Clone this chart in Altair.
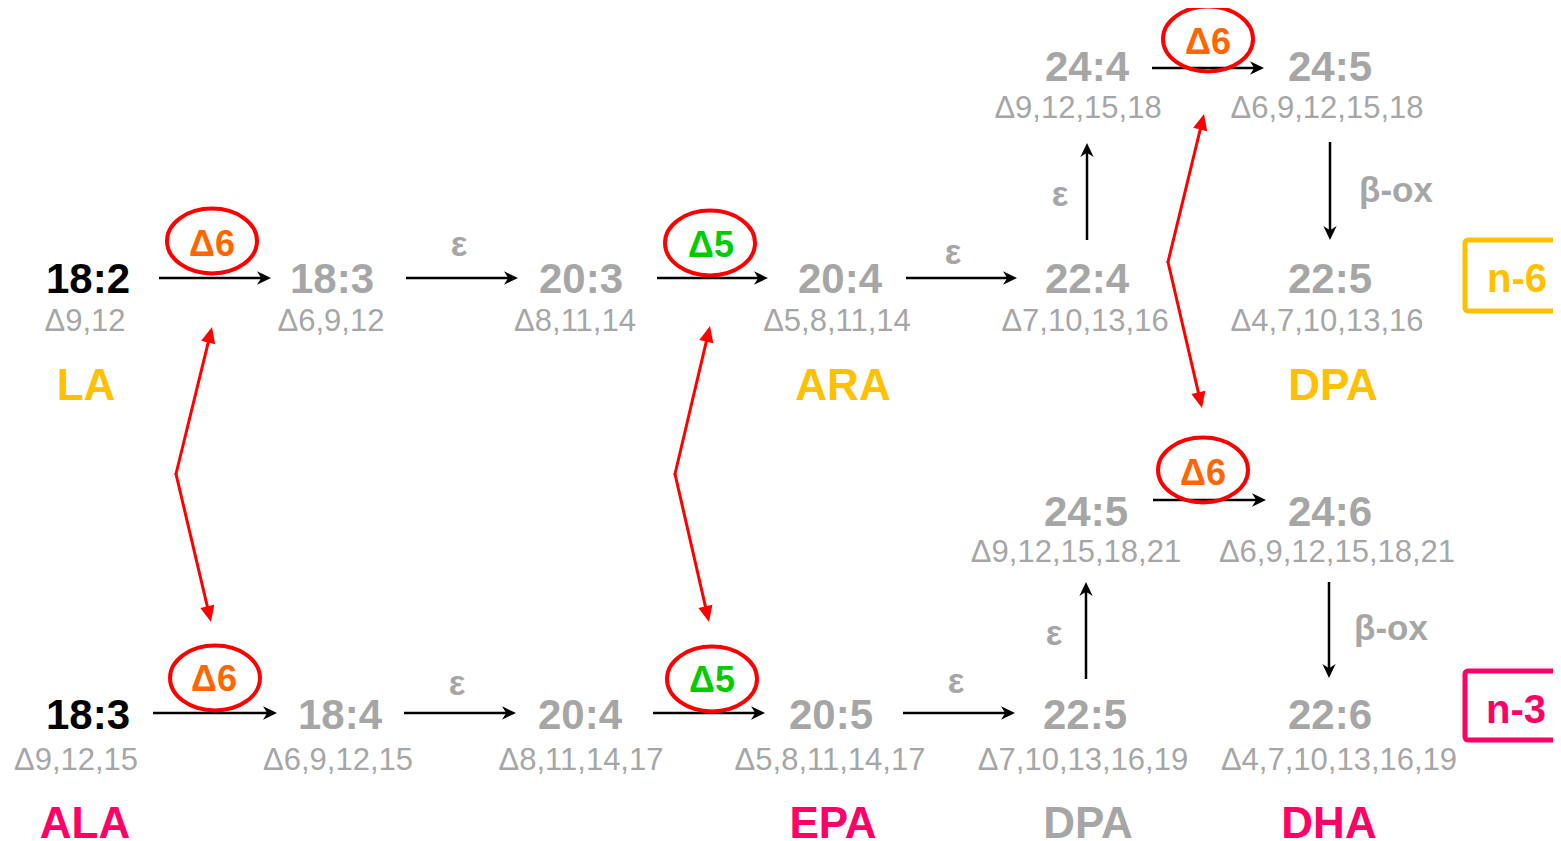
import math
import altair as alt
import pandas as pd

FONT = "Liberation Sans"
GRAY = "#A6A6A6"
YELLOW = "#FFC000"
PINK = "#FF0066"
ORANGE = "#FF6600"
GREEN = "#00CC00"
RED = "#FF0000"

# ---------------- fatty acids (chain length : double bonds) ----------------
acid_labels = ["18:2", "18:3", "20:3", "20:4", "22:4", "24:4", "24:5", "22:5",
               "18:3", "18:4", "20:4", "20:5", "22:5", "24:5", "24:6", "22:6"]
acid_x = [88, 332, 581, 840, 1087, 1087, 1330, 1330,
          88, 340, 580, 831, 1085, 1086, 1330, 1330]
acid_y = [293, 293, 293, 293, 293, 81, 81, 293,
          729, 729, 729, 729, 729, 526, 526, 729]
acid_kind = ["dietary"] + ["derived"] * 7 + ["dietary"] + ["derived"] * 7

# ---------------- double-bond positions ----------------
bond_labels = ["Δ9,12", "Δ6,9,12", "Δ8,11,14", "Δ5,8,11,14", "Δ7,10,13,16",
               "Δ9,12,15,18", "Δ6,9,12,15,18", "Δ4,7,10,13,16",
               "Δ9,12,15", "Δ6,9,12,15", "Δ8,11,14,17", "Δ5,8,11,14,17",
               "Δ7,10,13,16,19", "Δ9,12,15,18,21", "Δ6,9,12,15,18,21",
               "Δ4,7,10,13,16,19"]
bond_x = [85, 331, 575, 837, 1085, 1078, 1327, 1327,
          76, 338, 581, 830, 1083, 1076, 1337, 1339]
bond_y = [331, 331, 331, 331, 331, 118, 118, 331,
          770, 770, 770, 770, 770, 562, 562, 770]

# ---------------- common names ----------------
name_labels = ["LA", "ARA", "DPA", "ALA", "EPA", "DPA", "DHA"]
name_x = [86, 843, 1333, 85, 833, 1088, 1329]
name_y = [400, 400, 400, 838, 838, 838, 838]
name_series = ["n-6", "n-6", "n-6", "n-3", "n-3", "other", "n-3"]

# ---------------- desaturases (circled) ----------------
enzyme_labels = ["Δ6", "Δ5", "Δ6", "Δ6", "Δ5", "Δ6"]
enzyme_x = [212, 711, 1208, 214, 712, 1203]
enzyme_y = [256, 257, 54, 691, 692, 485]
ring_x = [212, 710, 1208, 215, 712, 1203]
ring_y = [241, 243, 39, 678, 679, 470]

# ---------------- elongation / beta-oxidation steps ----------------
step_labels = ["ε", "ε", "ε", "ε", "ε", "ε", "β-ox", "β-ox"]
step_x = [459, 953, 1060, 457, 956, 1054, 1396, 1391]
step_y = [256, 264, 206, 695, 693, 645, 202, 640]

# ---------------- reaction arrows (tail -> tip) ----------------
arrow_x = [159, 406, 657, 906, 1087, 1152, 1330, 153, 404, 653, 903, 1086, 1153, 1329]
arrow_y = [278, 278, 278, 278, 240, 68, 142, 713, 713, 713, 713, 679, 500, 582]
arrow_tip_x = [271, 518, 768, 1017, 1087, 1264, 1330, 277, 516, 765, 1015, 1086, 1266, 1329]
arrow_tip_y = [278, 278, 278, 278, 143, 68, 240, 713, 713, 713, 713, 582, 500, 678]

# ---------------- competition arrows (red, double headed) ----------------
swap_top_x = [212, 710, 1204]
swap_top_y = [327, 326, 114]
swap_mid_x = [176, 675, 1168]
swap_mid_y = [474, 474, 262]
swap_bot_x = [211, 709, 1202]
swap_bot_y = [622, 622, 408]

# ---------------- series boxes ----------------
box_labels = ["n-6", "n-3"]
box_left = [1465, 1465]
box_right = [1600, 1600]
box_top = [240, 671]
box_bottom = [311, 740]
box_text_x = [1517, 1516]
box_text_y = [292, 723]

# ---------------------------------------------------------------------------
XS = alt.Scale(domain=[8, 1553], nice=False, zero=False)
YS = alt.Scale(domain=[8, 845], reverse=True, nice=False, zero=False)

ARROW_HEAD = "M0,0 L-2,-0.95 L-1.4,0 L-2,0.95 Z"
RED_HEAD = "M0,0 L-2,-0.9 L-2,0.9 Z"
ELLIPSE = ("M1,0 C1,0.3977,0.5523,0.72,0,0.72 C-0.5523,0.72,-1,0.3977,-1,0 "
           "C-1,-0.3977,-0.5523,-0.72,0,-0.72 C0.5523,-0.72,1,-0.3977,1,0 Z")


def xq(f="x"):
    return alt.X(f"{f}:Q", scale=XS, axis=None)


def yq(f="y"):
    return alt.Y(f"{f}:Q", scale=YS, axis=None)


def shorten(x1, y1, x2, y2, back):
    rows = []
    for a, b, c, d in zip(x1, y1, x2, y2):
        L = math.hypot(c - a, d - b)
        ux, uy = (c - a) / L, (d - b) / L
        ang = math.degrees(math.atan2(d - b, c - a)) % 360
        rows.append({"x": a, "y": b, "x2": c - back * ux, "y2": d - back * uy,
                     "tx": c, "ty": d, "angle": ang})
    return pd.DataFrame(rows)


# black arrows
arr = shorten(arrow_x, arrow_y, arrow_tip_x, arrow_tip_y, 4)
arrow_lines = alt.Chart(arr).mark_rule(color="black", strokeWidth=2.5).encode(
    x=xq(), y=yq(), x2="x2:Q", y2="y2:Q")
arrow_heads = alt.Chart(arr).mark_point(
    shape=ARROW_HEAD, filled=True, size=196, color="black", opacity=1, strokeWidth=0
).encode(x=xq("tx"), y=yq("ty"), angle=alt.Angle("angle:Q", scale=None))

# red chevron double arrows
up = shorten(swap_mid_x, swap_mid_y, swap_top_x, swap_top_y, 12)
down = shorten(swap_mid_x, swap_mid_y, swap_bot_x, swap_bot_y, 12)
red = pd.concat([up, down], ignore_index=True)
red_lines = alt.Chart(red).mark_rule(color=RED, strokeWidth=3, strokeCap="round").encode(
    x=xq(), y=yq(), x2="x2:Q", y2="y2:Q")
red_heads = alt.Chart(red).mark_point(
    shape=RED_HEAD, filled=True, size=256, color=RED, opacity=1, strokeWidth=0
).encode(x=xq("tx"), y=yq("ty"), angle=alt.Angle("angle:Q", scale=None))

# ellipses around desaturases
rings = pd.DataFrame({"x": ring_x, "y": ring_y})
ring_marks = alt.Chart(rings).mark_point(
    shape=ELLIPSE, filled=False, size=8100, stroke=RED, strokeWidth=4, opacity=1
).encode(x=xq(), y=yq())

# series boxes
boxes = pd.DataFrame({"x": box_left, "x2": box_right, "y": box_top, "y2": box_bottom,
                      "series": box_labels, "tx": box_text_x, "ty": box_text_y})


def series_scale():
    return alt.Scale(domain=["n-6", "n-3", "other"], range=[YELLOW, PINK, GRAY])


box_marks = alt.Chart(boxes).mark_rect(
    fillOpacity=0, strokeWidth=5, cornerRadius=3, clip=True
).encode(x=xq(), x2="x2:Q", y=yq(), y2="y2:Q",
         stroke=alt.Stroke("series:N", scale=series_scale(), legend=None))
box_text = alt.Chart(boxes).mark_text(
    font=FONT, fontSize=40, fontWeight="bold", align="center", baseline="alphabetic"
).encode(x=xq("tx"), y=yq("ty"), text="series:N",
         color=alt.Color("series:N", scale=series_scale(), legend=None))


def text_layer(df, size, bold, color_enc=None, color=None):
    kw = dict(font=FONT, fontSize=size, align="center", baseline="alphabetic",
              fontWeight="bold" if bold else "normal")
    if color is not None:
        kw["color"] = color
    enc = dict(x=xq(), y=yq(), text="label:N")
    if color_enc is not None:
        enc["color"] = color_enc
    return alt.Chart(df).mark_text(**kw).encode(**enc)


acids = pd.DataFrame({"label": acid_labels, "x": acid_x, "y": acid_y, "kind": acid_kind})
acid_text = text_layer(acids, 42, True, alt.Color(
    "kind:N", scale=alt.Scale(domain=["dietary", "derived"], range=["#000000", GRAY]),
    legend=None))

bonds = pd.DataFrame({"label": bond_labels, "x": bond_x, "y": bond_y})
bond_text = text_layer(bonds, 31, False, color=GRAY)

names = pd.DataFrame({"label": name_labels, "x": name_x, "y": name_y, "series": name_series})
name_text = text_layer(names, 44, True, alt.Color("series:N", scale=series_scale(), legend=None))

enz = pd.DataFrame({"label": enzyme_labels, "x": enzyme_x, "y": enzyme_y})
enz_text = text_layer(enz, 36, True, alt.Color(
    "label:N", scale=alt.Scale(domain=["Δ6", "Δ5"], range=[ORANGE, GREEN]), legend=None))

steps = pd.DataFrame({"label": step_labels, "x": step_x, "y": step_y})
step_text = text_layer(steps, 35, True, color=GRAY)

chart = alt.layer(
    red_lines, red_heads, arrow_lines, arrow_heads, ring_marks, box_marks,
    box_text, acid_text, bond_text, name_text, enz_text, step_text
).resolve_scale(
    color="independent", stroke="independent"
).properties(
    width=1545, height=837, padding=0, autosize="none", background="white"
).configure_view(stroke=None)

chart.save("out.html", embed_options={"renderer": "svg", "actions": False})
